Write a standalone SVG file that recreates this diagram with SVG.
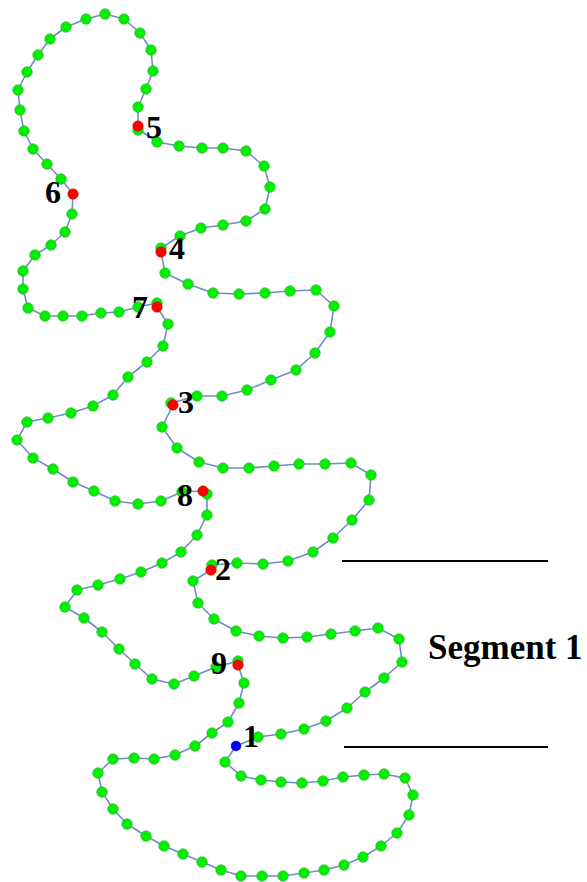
<svg xmlns="http://www.w3.org/2000/svg" width="587" height="882" viewBox="0 0 587 882">
<style>
.link{fill:none;stroke:#6d8ec6;stroke-width:1.6;stroke-linejoin:round}
.g{fill:#00f000;stroke:#38a838;stroke-width:0.6}
.r{fill:#ff0000;stroke:#c00000;stroke-width:0.4}
.b{fill:#0000ff;stroke:#0000a0;stroke-width:0.4}
.lbl{font-family:"Liberation Serif","Times New Roman",serif;font-weight:bold;font-size:32px;fill:#000}
.seg{font-family:"Liberation Serif","Times New Roman",serif;font-weight:bold;font-size:35px;fill:#000}
.rule{stroke:#000;stroke-width:2}
</style>
<rect width="587" height="882" fill="#fff"/>
<g id="connectors">
<polygon class="link" points="236,746 258,737 281,734 304,729 326,721 347,708 365,692 384,678 402,662 399,639 378,628 355,631 331,634 307,637 283,638 259,636 236,631 214,619 198,603 193,581 211,570 212,565 237,563 263,564 288,561 313,552 333,538 352,520 369,500 371,475 351,463 325,464 299,464 274,466 249,468 223,468 199,462 177,448 162,427 173,405 171,403 197,396 222,396 247,390 271,380 296,370 315,353 330,332 334,306 316,290 290,291 265,293 239,294 213,293 188,284 165,273 161,252 161,248 180,236 201,228 223,225 246,221 265,209 270,187 264,166 246,151 223,148 202,148 179,146 157,142 138,129 138,126 138,107 146,89 153,71 151,50 140,33 124,19 105,14 86,19 66,27 50,39 38,55 27,72 18,90 20,110 24,131 33,149 47,164 61,179 73,194 72,214 65,232 51,245 35,255 23,271 23,289 28,308 45,316 63,316 82,316 101,313 119,312 138,307 157,303 157,307 168,324 163,346 147,362 128,377 113,395 93,406 71,413 48,418 27,422 17,440 33,458 53,469 73,482 94,491 115,501 138,504 161,501 182,492 203,491 207,493 207,515 197,535 181,552 162,563 141,572 120,579 98,585 77,590 65,607 84,618 102,632 119,649 135,664 152,679 174,684 194,676 216,667 238,661 238,665 244,683 239,703 228,722 212,733 195,746 175,755 154,759 134,758 113,759 98,773 102,792 113,809 127,824 146,836 164,846 183,854 202,862 221,870 241,876 262,876 283,876 304,873 324,870 344,865 363,857 381,846 397,833 409,815 413,795 405,778 384,774 364,775 343,777 323,781 302,783 281,782 261,780 241,776 225,762"/>
</g>
<g id="beads">
<circle class="g" cx="258" cy="737" r="5.3"/><circle class="g" cx="281" cy="734" r="5.3"/><circle class="g" cx="304" cy="729" r="5.3"/><circle class="g" cx="326" cy="721" r="5.3"/><circle class="g" cx="347" cy="708" r="5.3"/><circle class="g" cx="365" cy="692" r="5.3"/><circle class="g" cx="384" cy="678" r="5.3"/><circle class="g" cx="402" cy="662" r="5.3"/><circle class="g" cx="399" cy="639" r="5.3"/><circle class="g" cx="378" cy="628" r="5.3"/><circle class="g" cx="355" cy="631" r="5.3"/><circle class="g" cx="331" cy="634" r="5.3"/><circle class="g" cx="307" cy="637" r="5.3"/><circle class="g" cx="283" cy="638" r="5.3"/><circle class="g" cx="259" cy="636" r="5.3"/><circle class="g" cx="236" cy="631" r="5.3"/><circle class="g" cx="214" cy="619" r="5.3"/><circle class="g" cx="198" cy="603" r="5.3"/><circle class="g" cx="193" cy="581" r="5.3"/>
<circle class="g" cx="212" cy="565" r="5.3"/><circle class="g" cx="237" cy="563" r="5.3"/><circle class="g" cx="263" cy="564" r="5.3"/><circle class="g" cx="288" cy="561" r="5.3"/><circle class="g" cx="313" cy="552" r="5.3"/><circle class="g" cx="333" cy="538" r="5.3"/><circle class="g" cx="352" cy="520" r="5.3"/><circle class="g" cx="369" cy="500" r="5.3"/><circle class="g" cx="371" cy="475" r="5.3"/><circle class="g" cx="351" cy="463" r="5.3"/><circle class="g" cx="325" cy="464" r="5.3"/><circle class="g" cx="299" cy="464" r="5.3"/><circle class="g" cx="274" cy="466" r="5.3"/><circle class="g" cx="249" cy="468" r="5.3"/><circle class="g" cx="223" cy="468" r="5.3"/><circle class="g" cx="199" cy="462" r="5.3"/><circle class="g" cx="177" cy="448" r="5.3"/><circle class="g" cx="162" cy="427" r="5.3"/>
<circle class="g" cx="171" cy="403" r="5.3"/><circle class="g" cx="197" cy="396" r="5.3"/><circle class="g" cx="222" cy="396" r="5.3"/><circle class="g" cx="247" cy="390" r="5.3"/><circle class="g" cx="271" cy="380" r="5.3"/><circle class="g" cx="296" cy="370" r="5.3"/><circle class="g" cx="315" cy="353" r="5.3"/><circle class="g" cx="330" cy="332" r="5.3"/><circle class="g" cx="334" cy="306" r="5.3"/><circle class="g" cx="316" cy="290" r="5.3"/><circle class="g" cx="290" cy="291" r="5.3"/><circle class="g" cx="265" cy="293" r="5.3"/><circle class="g" cx="239" cy="294" r="5.3"/><circle class="g" cx="213" cy="293" r="5.3"/><circle class="g" cx="188" cy="284" r="5.3"/><circle class="g" cx="165" cy="273" r="5.3"/>
<circle class="g" cx="161" cy="248" r="5.3"/><circle class="g" cx="180" cy="236" r="5.3"/><circle class="g" cx="201" cy="228" r="5.3"/><circle class="g" cx="223" cy="225" r="5.3"/><circle class="g" cx="246" cy="221" r="5.3"/><circle class="g" cx="265" cy="209" r="5.3"/><circle class="g" cx="270" cy="187" r="5.3"/><circle class="g" cx="264" cy="166" r="5.3"/><circle class="g" cx="246" cy="151" r="5.3"/><circle class="g" cx="223" cy="148" r="5.3"/><circle class="g" cx="202" cy="148" r="5.3"/><circle class="g" cx="179" cy="146" r="5.3"/><circle class="g" cx="157" cy="142" r="5.3"/>
<circle class="g" cx="138" cy="130" r="5.3"/><circle class="g" cx="138" cy="107" r="5.3"/><circle class="g" cx="146" cy="89" r="5.3"/><circle class="g" cx="153" cy="71" r="5.3"/><circle class="g" cx="151" cy="50" r="5.3"/><circle class="g" cx="140" cy="33" r="5.3"/><circle class="g" cx="124" cy="19" r="5.3"/><circle class="g" cx="105" cy="14" r="5.3"/><circle class="g" cx="86" cy="19" r="5.3"/><circle class="g" cx="66" cy="27" r="5.3"/><circle class="g" cx="50" cy="39" r="5.3"/><circle class="g" cx="38" cy="55" r="5.3"/><circle class="g" cx="27" cy="72" r="5.3"/><circle class="g" cx="18" cy="90" r="5.3"/><circle class="g" cx="20" cy="110" r="5.3"/><circle class="g" cx="24" cy="131" r="5.3"/><circle class="g" cx="33" cy="149" r="5.3"/><circle class="g" cx="47" cy="164" r="5.3"/><circle class="g" cx="61" cy="179" r="5.3"/>
<circle class="g" cx="72" cy="214" r="5.3"/><circle class="g" cx="65" cy="232" r="5.3"/><circle class="g" cx="51" cy="245" r="5.3"/><circle class="g" cx="35" cy="255" r="5.3"/><circle class="g" cx="23" cy="271" r="5.3"/><circle class="g" cx="23" cy="289" r="5.3"/><circle class="g" cx="28" cy="308" r="5.3"/><circle class="g" cx="45" cy="316" r="5.3"/><circle class="g" cx="63" cy="316" r="5.3"/><circle class="g" cx="82" cy="316" r="5.3"/><circle class="g" cx="101" cy="313" r="5.3"/><circle class="g" cx="119" cy="312" r="5.3"/><circle class="g" cx="138" cy="307" r="5.3"/><circle class="g" cx="157" cy="303" r="5.3"/>
<circle class="g" cx="168" cy="324" r="5.3"/><circle class="g" cx="163" cy="346" r="5.3"/><circle class="g" cx="147" cy="362" r="5.3"/><circle class="g" cx="128" cy="377" r="5.3"/><circle class="g" cx="113" cy="395" r="5.3"/><circle class="g" cx="93" cy="406" r="5.3"/><circle class="g" cx="71" cy="413" r="5.3"/><circle class="g" cx="48" cy="418" r="5.3"/><circle class="g" cx="27" cy="422" r="5.3"/><circle class="g" cx="17" cy="440" r="5.3"/><circle class="g" cx="33" cy="458" r="5.3"/><circle class="g" cx="53" cy="469" r="5.3"/><circle class="g" cx="73" cy="482" r="5.3"/><circle class="g" cx="94" cy="491" r="5.3"/><circle class="g" cx="115" cy="501" r="5.3"/><circle class="g" cx="138" cy="504" r="5.3"/><circle class="g" cx="161" cy="501" r="5.3"/><circle class="g" cx="182" cy="492" r="5.3"/>
<circle class="g" cx="207" cy="494" r="5.3"/><circle class="g" cx="207" cy="515" r="5.3"/><circle class="g" cx="197" cy="535" r="5.3"/><circle class="g" cx="181" cy="552" r="5.3"/><circle class="g" cx="162" cy="563" r="5.3"/><circle class="g" cx="141" cy="572" r="5.3"/><circle class="g" cx="120" cy="579" r="5.3"/><circle class="g" cx="98" cy="585" r="5.3"/><circle class="g" cx="77" cy="590" r="5.3"/><circle class="g" cx="65" cy="607" r="5.3"/><circle class="g" cx="84" cy="618" r="5.3"/><circle class="g" cx="102" cy="632" r="5.3"/><circle class="g" cx="119" cy="649" r="5.3"/><circle class="g" cx="135" cy="664" r="5.3"/><circle class="g" cx="152" cy="679" r="5.3"/><circle class="g" cx="174" cy="684" r="5.3"/><circle class="g" cx="194" cy="676" r="5.3"/><circle class="g" cx="216" cy="667" r="5.3"/>
<circle class="g" cx="238" cy="661" r="5.3"/><circle class="g" cx="244" cy="683" r="5.3"/><circle class="g" cx="239" cy="703" r="5.3"/><circle class="g" cx="228" cy="722" r="5.3"/><circle class="g" cx="212" cy="733" r="5.3"/><circle class="g" cx="195" cy="746" r="5.3"/><circle class="g" cx="175" cy="755" r="5.3"/><circle class="g" cx="154" cy="759" r="5.3"/><circle class="g" cx="134" cy="758" r="5.3"/><circle class="g" cx="113" cy="759" r="5.3"/><circle class="g" cx="98" cy="773" r="5.3"/><circle class="g" cx="102" cy="792" r="5.3"/><circle class="g" cx="113" cy="809" r="5.3"/><circle class="g" cx="127" cy="824" r="5.3"/><circle class="g" cx="146" cy="836" r="5.3"/><circle class="g" cx="164" cy="846" r="5.3"/><circle class="g" cx="183" cy="854" r="5.3"/><circle class="g" cx="202" cy="862" r="5.3"/><circle class="g" cx="221" cy="870" r="5.3"/><circle class="g" cx="241" cy="876" r="5.3"/><circle class="g" cx="262" cy="876" r="5.3"/><circle class="g" cx="283" cy="876" r="5.3"/><circle class="g" cx="304" cy="873" r="5.3"/><circle class="g" cx="324" cy="870" r="5.3"/><circle class="g" cx="344" cy="865" r="5.3"/><circle class="g" cx="363" cy="857" r="5.3"/><circle class="g" cx="381" cy="846" r="5.3"/><circle class="g" cx="397" cy="833" r="5.3"/><circle class="g" cx="409" cy="815" r="5.3"/><circle class="g" cx="413" cy="795" r="5.3"/><circle class="g" cx="405" cy="778" r="5.3"/><circle class="g" cx="384" cy="774" r="5.3"/><circle class="g" cx="364" cy="775" r="5.3"/><circle class="g" cx="343" cy="777" r="5.3"/><circle class="g" cx="323" cy="781" r="5.3"/><circle class="g" cx="302" cy="783" r="5.3"/><circle class="g" cx="281" cy="782" r="5.3"/><circle class="g" cx="261" cy="780" r="5.3"/><circle class="g" cx="241" cy="776" r="5.3"/><circle class="g" cx="225" cy="762" r="5.3"/>
</g>
<g id="site1"><circle class="b" cx="236" cy="746" r="5"/><text class="lbl" x="243" y="747">1</text></g>
<g id="site2"><circle class="r" cx="211" cy="570" r="5.3"/><text class="lbl" x="215" y="580">2</text></g>
<g id="site3"><circle class="r" cx="173" cy="405" r="5.3"/><text class="lbl" x="178" y="413">3</text></g>
<g id="site4"><circle class="r" cx="161" cy="252" r="5.3"/><text class="lbl" x="169" y="259">4</text></g>
<g id="site5"><circle class="r" cx="138" cy="126" r="5.3"/><text class="lbl" x="146" y="138">5</text></g>
<g id="site6"><circle class="r" cx="73" cy="194" r="5.3"/><text class="lbl" x="45" y="203">6</text></g>
<g id="site7"><circle class="r" cx="157" cy="307" r="5.3"/><text class="lbl" x="132" y="318">7</text></g>
<g id="site8"><circle class="r" cx="203" cy="491" r="5.3"/><text class="lbl" x="177" y="506">8</text></g>
<g id="site9"><circle class="r" cx="238" cy="665" r="5.3"/><text class="lbl" x="211" y="674">9</text></g>
<g id="segment1">
<line class="rule" x1="342" y1="561" x2="548" y2="561"/>
<line class="rule" x1="344" y1="747" x2="548" y2="747"/>
<text class="seg" x="428" y="659">Segment 1</text>
</g>
</svg>
